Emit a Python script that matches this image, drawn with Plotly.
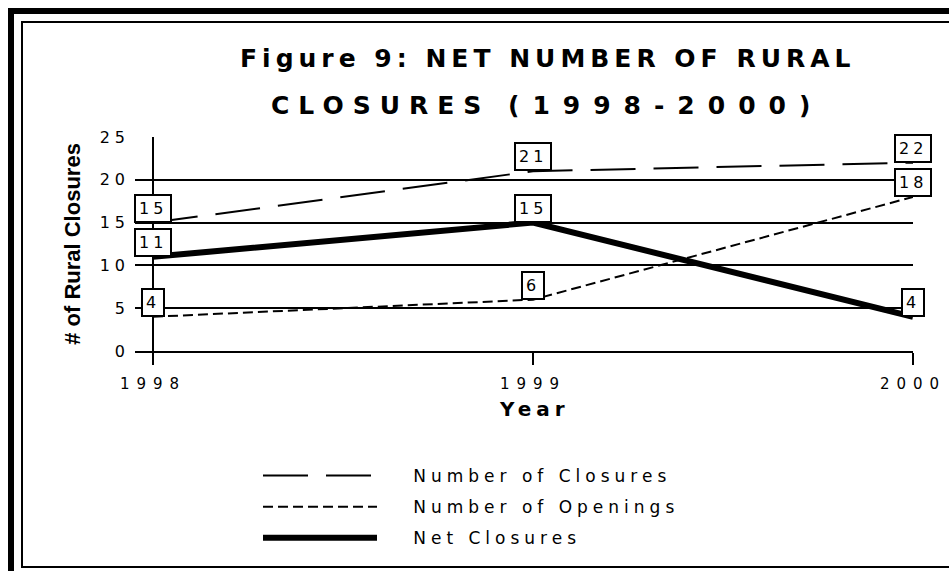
import plotly.graph_objects as go

# ---- data ----
years = [1998, 1999, 2000]
closures = [15, 21, 22]
openings = [4, 6, 18]
net_closures = [11, 15, 4]
series_names = ["Number of Closures", "Number of Openings", "Net Closures"]
y_ticks = [0, 5, 10, 15, 20, 25]
title_line1 = "Figure 9: NET NUMBER OF RURAL"
title_line2a = "CLOSURES"
title_line2b = "(1998-2000)"
x_title = "Year"
y_title = "# of Rural Closures"

FONT = "DejaVu Sans"


def ls(text, px):
    return f'<span style="letter-spacing:{px}px">{text}</span>'


# plot area geometry (pixels) used to convert to paper coords
L, R, T, B = 135, 36, 137, 220
W, H = 949, 571
PW, PH = W - L - R, H - T - B


def px_x(px):
    return (px - L) / PW


def px_y(py):
    return (H - B - py) / PH


fig = go.Figure()

styles = [
    dict(width=2, dash="45px,18px"),
    dict(width=2, dash="10px,5px"),
    dict(width=6, dash="solid"),
]
for i, (name, vals) in enumerate(zip(series_names, [closures, openings, net_closures])):
    fig.add_trace(go.Scatter(
        x=years, y=vals, mode="lines", name=ls("\u00a0\u00a0\u00a0" + name, 5),
        line=dict(color="black", **styles[i]),
        legendgroup=f"g{i}",
        hoverinfo="skip",
    ))

annotations = []
for vals in [closures, openings, net_closures]:
    for x, v in zip(years, vals):
        annotations.append(dict(
            x=x, y=v, xref="x", yref="y", text=ls(str(v), 4),
            showarrow=False, xanchor="center", yanchor="bottom",
            bgcolor="white", bordercolor="black", borderwidth=2, borderpad=3,
            font=dict(family=FONT, size=16, color="black"),
        ))

# title lines
annotations.append(dict(
    x=px_x(547), y=px_y(58), xref="paper", yref="paper", text=ls(title_line1, 5),
    showarrow=False, xanchor="center", yanchor="middle",
    font=dict(family=FONT, size=25, color="black", weight="bold"),
))
annotations.append(dict(
    x=px_x(547), y=px_y(105), xref="paper", yref="paper",
    text=ls(title_line2a + "\u00a0", 9) + ls(title_line2b, 13),
    showarrow=False, xanchor="center", yanchor="middle",
    font=dict(family=FONT, size=25, color="black", weight="bold"),
))
# x axis title
annotations.append(dict(
    x=px_x(534), y=px_y(409), xref="paper", yref="paper", text=ls(x_title, 5),
    showarrow=False, xanchor="center", yanchor="middle",
    font=dict(family=FONT, size=20, color="black", weight="bold"),
))

shapes = [
    # vertical axis line crossing at first year
    dict(type="line", xref="x", yref="y", x0=years[0], x1=years[0], y0=y_ticks[0], y1=y_ticks[-1],
         line=dict(color="black", width=2), layer="below"),
    # outer thick frame
    dict(type="rect", xref="paper", yref="paper", x0=px_x(11), x1=px_x(990), y0=px_y(620), y1=px_y(11),
         line=dict(color="black", width=6), fillcolor="rgba(0,0,0,0)", layer="above"),
    # inner thin frame
    dict(type="rect", xref="paper", yref="paper", x0=px_x(22), x1=px_x(990), y0=px_y(567), y1=px_y(22),
         line=dict(color="black", width=2), fillcolor="rgba(0,0,0,0)", layer="above"),
]

x_left = years[0] - 18 / 380

fig.update_layout(
    width=W, height=H,
    margin=dict(l=L, r=R, t=T, b=B, autoexpand=False),
    paper_bgcolor="white", plot_bgcolor="white",
    font=dict(family=FONT, color="black"),
    annotations=annotations,
    shapes=shapes,
    showlegend=True,
    legend=dict(
        x=px_x(258), y=px_y(458), xanchor="left", yanchor="top",
        font=dict(family=FONT, size=17, color="black"),
        itemwidth=114, traceorder="grouped", tracegroupgap=6,
        bgcolor="rgba(0,0,0,0)",
    ),
    xaxis=dict(
        range=[x_left, years[-1]], tickvals=years, ticktext=[ls(str(y), 7) for y in years],
        showgrid=False, zeroline=False, showline=True, linecolor="black", linewidth=2,
        ticks="outside", ticklen=12, tickwidth=2, tickcolor="black",
        tickfont=dict(family=FONT, size=15, color="black"), ticklabelstandoff=6,
        fixedrange=True,
    ),
    yaxis=dict(
        range=[y_ticks[0], y_ticks[-1]], tickvals=y_ticks, ticktext=[ls(str(v), 5) for v in y_ticks],
        showgrid=True, gridcolor="black", gridwidth=2, zeroline=False, showline=False,
        ticks="", tickfont=dict(family=FONT, size=16, color="black"), ticklabelstandoff=4,
        title=dict(text=y_title, standoff=12,
                   font=dict(family="Liberation Sans", size=22, color="black", weight="bold")),
        fixedrange=True,
    ),
)

fig.write_html("out.html", config={"displayModeBar": False},
               post_script="document.body.style.margin='0';")
